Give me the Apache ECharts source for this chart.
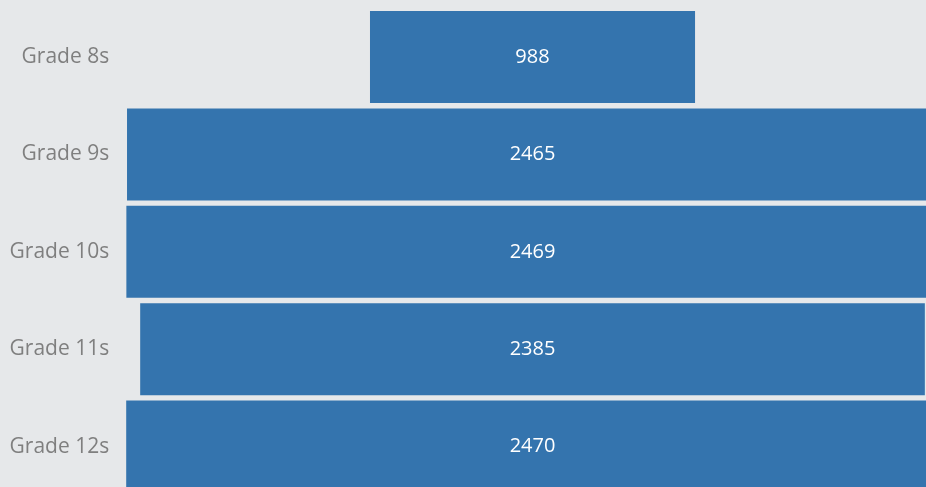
<!DOCTYPE html>
<html>
<head>
<meta charset="utf-8">
<script src="https://cdn.jsdelivr.net/npm/echarts@6/dist/echarts.min.js"></script>
<style>
html,body{margin:0;padding:0;background:#e6e8ea;overflow:hidden;width:926px;height:487px;}
#chart{width:926px;height:496px;}
</style>
</head>
<body>
<div id="chart"></div>
<script>
var categories = ['Grade 8s', 'Grade 9s', 'Grade 10s', 'Grade 11s', 'Grade 12s'];
var values = [988, 2465, 2469, 2385, 2470];

var maxVal = Math.max.apply(null, values);
var offsets = values.map(function (v) { return (maxVal - v) / 2; });

var chart = echarts.init(document.getElementById('chart'), null, {renderer: 'canvas'});
chart.setOption({
  backgroundColor: '#e6e8ea',
  animation: false,
  grid: {left: 126.2, right: 0, top: 8.3, height: 487},
  xAxis: {
    type: 'value', min: 0, max: 2431, show: false
  },
  yAxis: {
    type: 'category',
    data: categories,
    inverse: true,
    axisLine: {show: false},
    axisTick: {show: false},
    splitLine: {show: false},
    axisLabel: {
      color: '#7f7f7f',
      fontFamily: 'Open Sans',
      fontSize: 21,
      margin: 17
    }
  },
  series: [
    {
      type: 'bar',
      stack: 'f',
      data: offsets,
      barWidth: 92,
      clip: false,
      itemStyle: {color: 'transparent'},
      silent: true
    },
    {
      type: 'bar',
      stack: 'f',
      data: values,
      barWidth: 92,
      clip: false,
      itemStyle: {color: '#3474ae'},
      label: {
        show: true,
        position: 'inside',
        color: '#ffffff',
        fontFamily: 'Open Sans',
        fontSize: 20
      }
    }
  ]
});
</script>
</body>
</html>
